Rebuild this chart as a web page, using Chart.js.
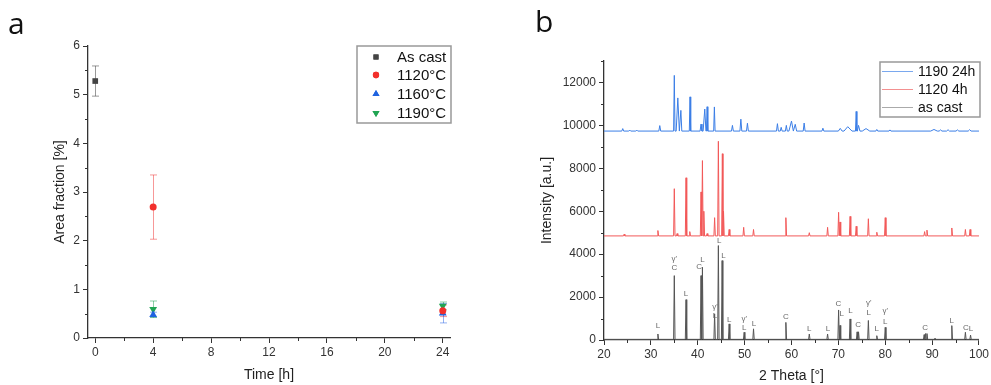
<!DOCTYPE html>
<html>
<head>
<meta charset="utf-8">
<script src="https://cdn.jsdelivr.net/npm/chart.js@4.4.1/dist/chart.umd.min.js"></script>
<style>
  html, body { margin: 0; padding: 0; background: #fff; }
  #wrap { position: relative; width: 991px; height: 385px; overflow: hidden; background: #fff; }
  .panel { position: absolute; top: 0; height: 385px; }
  #pa { left: 0; width: 490px; }
  #pb { left: 500px; width: 491px; }
  .tag { position: absolute; font-family: "Open Sans", sans-serif; font-size: 30px; color: #111; line-height: 1; }
</style>
</head>
<body>
<div id="wrap">
  <div class="panel" id="pa"><canvas id="chartA"></canvas></div>
  <div class="panel" id="pb"><canvas id="chartB"></canvas></div>
  <div class="tag" style="left:8px;top:8px">a</div>
  <div class="tag" style="left:535px;top:6px">b</div>
</div>
<script>
// ---- panel a : area fraction vs time ----
const seriesNamesA = ['As cast', '1120°C', '1160°C', '1190°C'];
const timeAsCast = [0],     areaAsCast = [5.28],       errAsCast = [0.31];
const time1120   = [4, 24], area1120   = [2.69, 0.56], err1120   = [0.66, 0.12];
const time1160   = [4, 24], area1160   = [0.48, 0.51], err1160   = [0.05, 0.20];
const time1190   = [4, 24], area1190   = [0.59, 0.66], err1190   = [0.17, 0.08];
const xTicksA = [0, 4, 8, 12, 16, 20, 24];
const xMinorA = [2, 6, 10, 14, 18, 22];
const yTicksA = [0, 1, 2, 3, 4, 5, 6];
const yMinorA = [0.5, 1.5, 2.5, 3.5, 4.5, 5.5];

// ---- panel b : XRD patterns ----
const seriesNamesB = ['1190 24h', '1120 4h', 'as cast'];
const blueBase = 9735;
const blueTheta = [24.0, 25.5, 27.0, 31.9, 35.0, 35.75, 36.4, 38.35, 40.7, 41.5, 42.0, 43.55, 47.4, 49.2, 50.6, 57.0, 57.8, 58.9, 60.0, 60.8, 62.7, 66.7, 70.4, 72.0, 73.8, 74.3, 75.9, 78.2, 81.0, 90.4, 91.8, 93.4, 95.4, 98.0];
const blueInt = [9850, 9780, 9780, 9990, 12330, 11280, 10700, 11330, 10060, 10760, 10870, 10860, 10000, 10290, 10100, 10080, 9910, 10000, 10200, 10050, 10110, 9870, 9860, 9940, 10650, 10000, 9850, 9810, 9790, 9810, 9790, 9800, 9790, 9800];
const blueWidth = [0.2, 0.2, 0.2, 0.2, 0.15, 0.35, 0.2, 0.15, 0.2, 0.35, 0.15, 0.15, 0.2, 0.2, 0.2, 0.2, 0.2, 0.2, 0.7, 0.3, 0.2, 0.2, 0.4, 0.9, 0.15, 0.3, 0.8, 0.2, 0.2, 0.7, 0.3, 0.3, 0.3, 0.3];

const redBase = 4850;
const redTheta = [24.3, 31.5, 35.0, 35.6, 37.5, 38.3, 40.7, 41.0, 41.3, 42.0, 43.6, 44.4, 45.25, 45.5, 46.7, 49.8, 51.9, 58.8, 63.8, 67.7, 70.05, 70.35, 72.5, 73.8, 76.4, 78.2, 80.0, 88.4, 88.9, 94.2, 97.1, 98.1];
const redInt = [4930, 5100, 7050, 4960, 7560, 5050, 6900, 8360, 6000, 4960, 5700, 9260, 8680, 6000, 5150, 5250, 5150, 5700, 5000, 5250, 5950, 5500, 5760, 5300, 5650, 5020, 5700, 5050, 5120, 5220, 5150, 5150];
const redWidth = 0.15;

const castBase = 30;
const castTheta = [31.5, 35.0, 37.5, 40.7, 41.0, 43.6, 44.4, 45.2, 46.7, 49.9, 51.9, 58.8, 63.8, 67.7, 70.05, 70.35, 72.5, 74.0, 74.3, 76.4, 78.2, 80.0, 88.3, 88.6, 88.9, 90.6, 94.2, 97.1, 98.2];
const castInt = [280, 3000, 1880, 3000, 3390, 1220, 4400, 3700, 750, 360, 520, 820, 280, 280, 1400, 680, 980, 380, 380, 910, 200, 590, 250, 300, 300, 90, 670, 360, 230];
const castWidth = 0.15;

// phase marks above the as cast peaks
const markTheta = [31.5, 35.0, 35.0, 37.5, 40.3, 41.0, 43.7, 43.7, 44.6, 45.5, 46.7, 49.9, 49.9, 52.0, 58.8, 63.8, 67.8, 70.0, 70.7, 72.6, 74.2, 76.5, 76.5, 78.2, 80.0, 80.0, 88.5, 94.2, 97.2, 98.3];
const markText = ['L', "γ'", 'C', 'L', 'C', 'L', "γ'", 'L', 'L', 'L', 'L', "γ'", 'L', 'L', 'C', 'L', 'L', 'C', 'L', 'L', 'C', "γ'", 'L', 'L', "γ'", 'L', 'C', 'L', 'C', 'L'];
const markInt = [670, 3780, 3350, 2150, 3390, 3740, 1560, 1140, 4610, 3940, 950, 980, 560, 750, 1100, 510, 510, 1680, 1210, 1370, 700, 1730, 1260, 510, 1340, 870, 590, 900, 590, 545];

const xTicksB = [20, 30, 40, 50, 60, 70, 80, 90, 100];
const xMinorB = [25, 35, 45, 55, 65, 75, 85, 95];
const yTicksB = [0, 2000, 4000, 6000, 8000, 10000, 12000];
const yMinorB = [1000, 3000, 5000, 7000, 9000, 11000, 13000];

const FONT = 'Liberation Sans';
const AXIS = '#333';

function pts(xs, ys) { return xs.map((x, i) => ({ x: x, y: ys[i] })); }

// peak list -> polyline (base, apex, base for every peak)
function pattern(theta, inten, width, base) {
  const out = [{ x: 20, y: base }];
  let lastX = 20;
  for (let i = 0; i < theta.length; i++) {
    const w = Array.isArray(width) ? width[i] : width;
    let l = theta[i] - w, r = theta[i] + w;
    if (i > 0) l = Math.max(l, (theta[i - 1] + theta[i]) / 2);
    if (i < theta.length - 1) r = Math.min(r, (theta[i] + theta[i + 1]) / 2);
    if (l > lastX) out.push({ x: l, y: base });
    out.push({ x: theta[i], y: inten[i] });
    out.push({ x: r, y: base });
    lastX = r;
  }
  out.push({ x: 100, y: base });
  return out;
}

const minorTicks = {
  id: 'minorTicks',
  afterDraw(chart, args, opts) {
    const { ctx, scales: { x, y } } = chart;
    ctx.save();
    ctx.strokeStyle = AXIS;
    ctx.lineWidth = 1;
    ctx.beginPath();
    opts.x.forEach(v => {
      const px = Math.round(x.getPixelForValue(v)) + 0.5;
      ctx.moveTo(px, y.bottom); ctx.lineTo(px, y.bottom + 3);
    });
    opts.y.forEach(v => {
      const py = Math.round(y.getPixelForValue(v)) + 0.5;
      ctx.moveTo(x.left, py); ctx.lineTo(x.left - 3, py);
    });
    ctx.stroke();
    ctx.restore();
  }
};

const errorBars = {
  id: 'errorBars',
  beforeDatasetsDraw(chart) {
    const { ctx, scales: { x, y } } = chart;
    chart.data.datasets.forEach(ds => {
      if (!ds.errors) return;
      ctx.save();
      ctx.strokeStyle = ds.errorColor;
      ctx.lineWidth = 1;
      ds.data.forEach((p, j) => {
        const px = Math.round(x.getPixelForValue(p.x)) + 0.5;
        const top = y.getPixelForValue(p.y + ds.errors[j]);
        const bot = y.getPixelForValue(p.y - ds.errors[j]);
        ctx.beginPath();
        ctx.moveTo(px, top); ctx.lineTo(px, bot);
        ctx.moveTo(px - 3.5, top); ctx.lineTo(px + 3.5, top);
        ctx.moveTo(px - 3.5, bot); ctx.lineTo(px + 3.5, bot);
        ctx.stroke();
      });
      ctx.restore();
    });
  }
};

const boxLegend = {
  id: 'boxLegend',
  afterDraw(chart, args, o) {
    const { ctx, chartArea } = chart;
    const left = chartArea.right - o.width + o.dx;
    const top = chartArea.top + o.dy;
    ctx.save();
    ctx.fillStyle = '#fff';
    ctx.fillRect(left, top, o.width, o.height);
    ctx.strokeStyle = '#999';
    ctx.lineWidth = 1.5;
    ctx.strokeRect(left, top, o.width, o.height);
    ctx.font = o.size + 'px "' + FONT + '"';
    ctx.textBaseline = 'middle';
    ctx.fillStyle = '#111';
    chart.data.datasets.forEach((ds, i) => {
      const cy = top + o.rows[i];
      if (o.kind === 'line') {
        ctx.strokeStyle = ds.legendColor;
        ctx.lineWidth = 1;
        ctx.beginPath();
        ctx.moveTo(left + 2, cy + 0.5); ctx.lineTo(left + 33, cy + 0.5);
        ctx.stroke();
      } else {
        ctx.fillStyle = ds.backgroundColor;
        Chart.helpers.drawPoint(ctx, { pointStyle: ds.pointStyle, rotation: ds.pointRotation || 0, radius: ds.pointRadius * 0.9 }, left + 19, cy);
        ctx.fill();
      }
      ctx.fillStyle = '#111';
      ctx.fillText(ds.label, left + o.textX, cy + 1);
    });
    ctx.restore();
  }
};

function axisX(min, max, ticks, h, title, tpad) {
  return {
    type: 'linear', min: min, max: max,
    afterBuildTicks: s => { s.ticks = ticks.map(v => ({ value: v })); },
    afterFit: s => { s.height = h; },
    grid: { drawOnChartArea: false, tickLength: 5, color: AXIS, tickWidth: 1 },
    border: { display: true, color: AXIS, width: 1.3 },
    ticks: { color: AXIS, font: { family: FONT, size: 12 }, padding: 2, maxRotation: 0, autoSkip: false, callback: v => String(v) },
    title: { display: true, text: title, color: '#222', font: { family: FONT, size: 14 }, padding: { top: 0, bottom: tpad } }
  };
}
function axisY(min, max, ticks, w, title, tpad) {
  return {
    type: 'linear', min: min, max: max,
    afterBuildTicks: s => { s.ticks = ticks.map(v => ({ value: v })); },
    afterFit: s => { s.width = w; },
    grid: { drawOnChartArea: false, tickLength: 5, color: AXIS, tickWidth: 1 },
    border: { display: true, color: AXIS, width: 1.3 },
    ticks: { color: AXIS, font: { family: FONT, size: 12 }, padding: 3, autoSkip: false, callback: v => String(v) },
    title: { display: true, text: title, color: '#222', font: { family: FONT, size: 14 }, padding: { top: tpad, bottom: 0 } }
  };
}

const chartA = new Chart(document.getElementById('chartA'), {
  type: 'scatter',
  data: {
    datasets: [
      { label: seriesNamesA[0], data: pts(timeAsCast, areaAsCast), errors: errAsCast, errorColor: 'rgba(70,70,70,0.55)',
        pointStyle: 'rect', pointRadius: 4, backgroundColor: '#444', borderWidth: 0 },
      { label: seriesNamesA[1], data: pts(time1120, area1120), errors: err1120, errorColor: 'rgba(240,50,50,0.5)',
        pointStyle: 'circle', pointRadius: 3.5, backgroundColor: '#f2302c', borderWidth: 0 },
      { label: seriesNamesA[2], data: pts(time1160, area1160), errors: err1160, errorColor: 'rgba(40,100,230,0.5)',
        pointStyle: 'triangle', pointRadius: 4.5, backgroundColor: '#1f63e0', borderWidth: 0 },
      { label: seriesNamesA[3], data: pts(time1190, area1190), errors: err1190, errorColor: 'rgba(30,160,80,0.5)',
        pointStyle: 'triangle', pointRotation: 180, pointRadius: 4.5, backgroundColor: '#21a553', borderWidth: 0 }
    ]
  },
  options: {
    animation: false, responsive: true, maintainAspectRatio: false, devicePixelRatio: 1,
    layout: { padding: { left: 0, right: 40, top: 46, bottom: 0 } },
    plugins: {
      legend: { display: false }, tooltip: { enabled: false },
      minorTicks: { x: xMinorA, y: yMinorA },
      boxLegend: { kind: 'marker', width: 94, height: 77, dx: 1, dy: 0, rows: [11, 29, 48, 67], textX: 40, size: 15 }
    },
    scales: {
      x: axisX(-0.5, 24.5, xTicksA, 47, 'Time [h]', 1.6),
      y: axisY(0, 6, yTicksA, 88, 'Area fraction [%]', 51.6)
    }
  },
  plugins: [errorBars, minorTicks, boxLegend]
});

const phaseMarks = {
  id: 'phaseMarks',
  afterDatasetsDraw(chart) {
    const { ctx, scales: { x, y } } = chart;
    ctx.save();
    ctx.font = '8px "' + FONT + '"';
    ctx.fillStyle = '#6a6a6a';
    ctx.textAlign = 'center';
    ctx.textBaseline = 'middle';
    markTheta.forEach((t, i) => {
      ctx.fillText(markText[i], x.getPixelForValue(t), y.getPixelForValue(markInt[i]));
    });
    ctx.restore();
  }
};

const chartB = new Chart(document.getElementById('chartB'), {
  type: 'line',
  data: {
    datasets: [
      { label: seriesNamesB[0], data: pattern(blueTheta, blueInt, blueWidth, blueBase), borderColor: '#3b7ee6', legendColor: '#7aa8ee' },
      { label: seriesNamesB[1], data: pattern(redTheta, redInt, redWidth, redBase), borderColor: '#f25858', legendColor: '#f39090' },
      { label: seriesNamesB[2], data: pattern(castTheta, castInt, castWidth, castBase), borderColor: '#555', legendColor: '#aaa' }
    ]
  },
  options: {
    animation: false, responsive: true, maintainAspectRatio: false, devicePixelRatio: 1,
    parsing: true,
    elements: { point: { radius: 0 }, line: { borderWidth: 1, tension: 0 } },
    layout: { padding: { left: 0, right: 10, top: 61, bottom: 0 } },
    plugins: {
      legend: { display: false }, tooltip: { enabled: false },
      minorTicks: { x: xMinorB, y: yMinorB },
      boxLegend: { kind: 'line', width: 100, height: 55, dx: 1, dy: 1, rows: [9, 27, 45], textX: 38, size: 14 }
    },
    scales: {
      x: axisX(20, 100, xTicksB, 45, '2 Theta [°]', 0),
      y: axisY(0, 13000, yTicksB, 104, 'Intensity [a.u.]', 38.6)
    }
  },
  plugins: [minorTicks, phaseMarks, boxLegend]
});
</script>
</body>
</html>
